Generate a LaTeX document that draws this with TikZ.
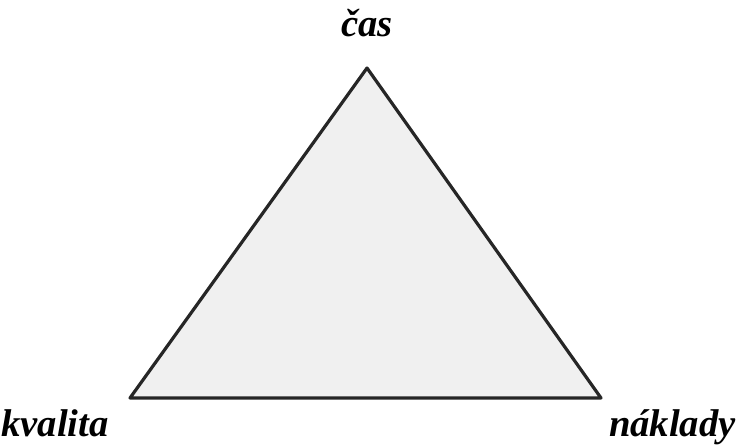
\documentclass[tikz,border=0pt]{standalone}
\usepackage{fontspec}
\setmainfont{Liberation Serif}
\usepackage{tikz}
\colorlet{trifill}{black!6}
\colorlet{triline}{black!85}
\tikzset{corner/.style={font=\bfseries\itshape\fontsize{29}{34}\selectfont, inner sep=0pt}}

\begin{document}
\begin{tikzpicture}[x=0.75pt, y=0.75pt]
    \useasboundingbox (0, 0) rectangle (737, 444);
    \coordinate (top) at (367, 376);
    \coordinate (left) at (130, 46);
    \coordinate (right) at (601, 46);
    \filldraw[fill=trifill, draw=triline, line width=2.4pt, line join=round] (top) -- (left) -- (right) -- cycle;
    \node[corner, anchor=base] (cas) at (367, 407) {čas};
    \node[corner, anchor=base west] (kvalita) at (1, 8) {kvalita};
    \node[corner, anchor=base east] (naklady) at (736, 8) {náklady};
\end{tikzpicture}
\end{document}
